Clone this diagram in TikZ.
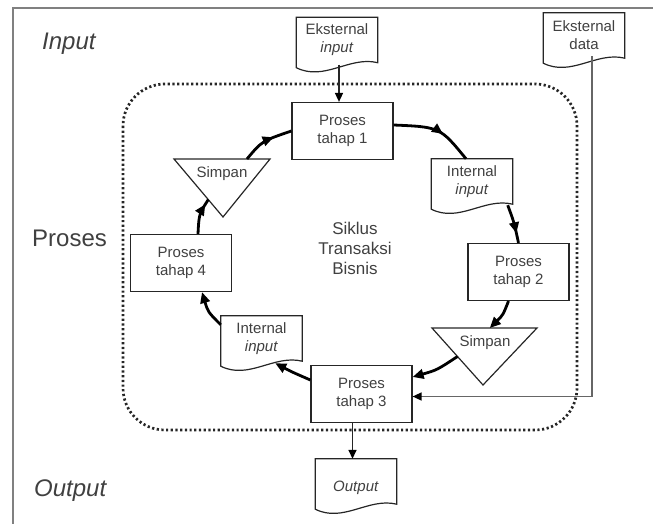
\documentclass[tikz,border=0pt]{standalone}
\usepackage{fontspec}
\setmainfont{Liberation Sans}
\usetikzlibrary{calc,arrows.meta,decorations.markings}

% outline of a document symbol: flat top, wavy bottom edge
\newcommand\docframe[1]{%
  \draw[boxline] (#1.north west) -- (#1.north east) -- (#1.south east)
    .. controls ($(#1.south east)+(-28,-7)$) and ($(#1.south west)+(28,19)$)
    .. ($(#1.south west)+(0,5)$) -- cycle;}

\tikzset{
  boxline/.style={draw=black!85, line width=1.2pt},
  nodetext/.style={font=\fontsize{15}{18}\selectfont, text=black!75},
  procbox/.style={boxline, nodetext, rectangle, minimum width=101pt,
    minimum height=57pt, inner sep=0pt, align=center},
  docnode/.style={nodetext, rectangle, minimum width=81pt,
    minimum height=45pt, inner sep=0pt, align=center},
  storetext/.style={nodetext, inner sep=0pt},
  sidelabel/.style={font=\fontsize{24}{28}\selectfont, text=black!75,
    anchor=base west, inner sep=0pt},
  cycleflow/.style={line width=2.8pt, draw=black},
  midtip/.style={postaction={decorate}, decoration={markings,
    mark=at position #1 with {\arrow{Triangle[length=11pt,width=9.5pt]}}}},
  endtip/.style={-{Triangle[length=11pt,width=9.5pt]}},
  feed/.style={line width=1.5pt, draw=black!85,
    -{Triangle[length=9pt,width=8pt,color=black]}},
}

\begin{document}
\begin{tikzpicture}[x=1pt, y=-1pt]
\useasboundingbox (0,0) rectangle (653,524);

% page frame
\draw[draw=black!50, line width=2pt] (653,8) -- (13,8) -- (13,524);

% section labels
\node[sidelabel] (lblin) at (42,50) {\itshape Input};
\node[sidelabel] (lblproc) at (32,246) {Proses};
\node[sidelabel] (lblout) at (34,496) {\itshape Output};

% boundary of the transaction cycle
\draw[draw=black!85, line width=2.7pt, dash pattern=on 2.2pt off 2.5pt,
  rounded corners=42pt] (123,84) rectangle (577,430);

\node[nodetext, font=\fontsize{17}{20}\selectfont, align=center] (SK)
  at (355,248) {Siklus\\Transaksi\\Bisnis};

% processing steps
\node[procbox] (P1) at (342.5,131) {Proses\\tahap 1};
\node[procbox] (P2) at (518.5,272) {Proses\\tahap 2};
\node[procbox] (P3) at (361.5,394) {Proses\\tahap 3};
\node[procbox] (P4) at (181,263) {Proses\\tahap 4};

% documents
\node[docnode] (EI) at (337,40) {Eksternal\\\textit{input}};
\docframe{EI}
\node[docnode] (ED) at (584,35.5) {Eksternal\\data};
\docframe{ED}
\node[docnode] (IR) at (472,181.5) {Internal\\\textit{input}};
\docframe{IR}
\node[docnode] (IL) at (261.5,338.5) {Internal\\\textit{input}};
\docframe{IL}
\node[docnode] (O) at (356,481.5) {};
\docframe{O}
\node[storetext] (Otext) at ($(O.center)+(0,6)$) {\textit{Output}};

% storage triangles
\coordinate (sL1) at (174,159);
\coordinate (sL2) at (270,159);
\coordinate (sL3) at (223,217);
\draw[boxline] (sL1) -- (sL2) -- (sL3) -- cycle;
\node[storetext] (SL) at (222,174) {Simpan};
\coordinate (sR1) at (432,328);
\coordinate (sR2) at (537,328);
\coordinate (sR3) at (483,385);
\draw[boxline] (sR1) -- (sR2) -- (sR3) -- cycle;
\node[storetext] (SR) at (485,343) {Simpan};

% attachment points on the triangles and documents
\coordinate (sLout) at ($(sL1)!0.76!(sL2)$);
\coordinate (sLin) at ($(sL1)!0.7!(sL3)$);
\coordinate (sRin) at ($(sR1)!0.55!(sR2)$);
\coordinate (sRout) at ($(sR1)!0.5!(sR3)$);
\coordinate (ILin) at ($(IL.south east)+(-27,2)$);

% the cycle
\draw[cycleflow, midtip=0.65] (sLout) .. controls (262,141) .. (P1.west);
\draw[cycleflow, midtip=0.6] ($(P1.east)+(0,-6)$) .. controls (440,127)
  .. ($(IR.north)+(-6,0)$);
\draw[cycleflow, midtip=0.75] ($(IR.south east)+(-5,1)$) .. controls (514,222)
  .. (P2.north);
\draw[cycleflow, endtip] ($(P2.south)+(-10,0)$) .. controls (503,315) .. (sRin);
\draw[cycleflow, endtip] (sRout) .. controls (437,370) .. ($(P3.east)+(0,-17)$);
\draw[cycleflow, endtip] ($(P3.west)+(0,-14)$) .. controls (292,372) .. (ILin);
\draw[cycleflow, endtip] ($(IL.north west)+(0,9)$) .. controls (208,312)
  .. ($(P4.south)+(21,0)$);
\draw[cycleflow, midtip=0.85] ($(P4.north)+(17,0)$) .. controls (199,214) .. (sLin);

% external flows
\coordinate (eiout) at ($(EI.south)+(2,2)$);
\draw[feed] (eiout) -- (eiout |- P1.north);
\coordinate (p3out) at ($(P3.south)+(-9,0)$);
\draw[feed] (p3out) -- (p3out |- O.north);
\coordinate (edout) at ($(ED.south)+(8,-2)$);
\coordinate (p3in) at ($(P3.east)+(0,2.5)$);
\draw[feed, draw=black!60] (edout) |- (p3in);
\end{tikzpicture}
\end{document}
